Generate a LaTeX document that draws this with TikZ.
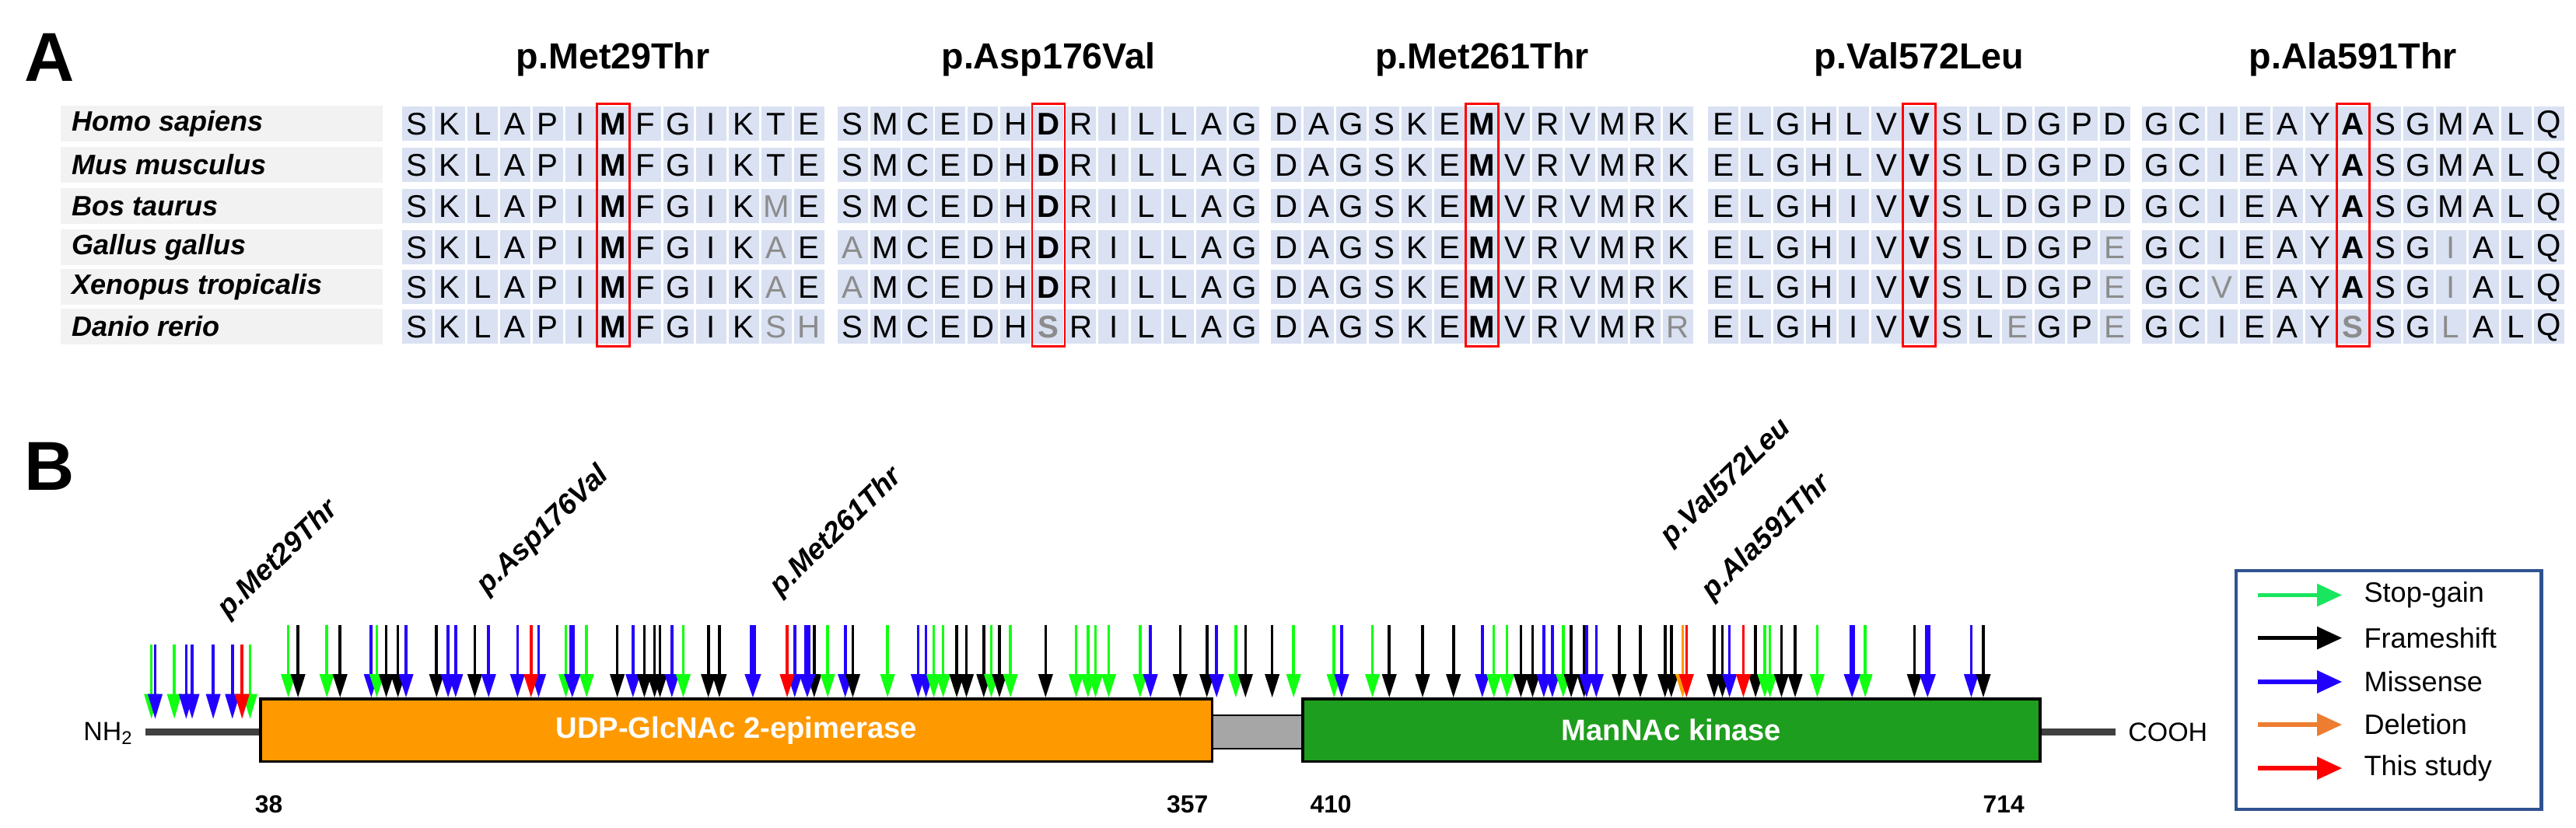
\documentclass[tikz,border=0pt]{standalone}
\usepackage{fontspec}
\setmainfont{Liberation Sans}
\definecolor{cellbg}{HTML}{D9E1F2}
\definecolor{spbg}{HTML}{F2F2F2}
\definecolor{cG}{HTML}{11FF11}
\definecolor{cB}{HTML}{2200FF}
\definecolor{cK}{HTML}{000000}
\definecolor{cR}{HTML}{FF0000}
\definecolor{cO}{HTML}{FF9900}
\definecolor{lgG}{HTML}{19E65E}
\definecolor{lgO}{HTML}{ED7D31}
\definecolor{boxO}{HTML}{FF9900}
\definecolor{boxG}{HTML}{1E9E1E}
\definecolor{legb}{HTML}{2F528F}
\definecolor{grayletter}{HTML}{8C8C8C}
\newcommand{\fsz}[1]{\fontsize{#1}{#1}\selectfont}
\def\gflag{g}
% \seqblk{rowy}{blockx}{list}
\newcommand{\seqblk}[3]{%
  \foreach \c/\col [count=\i from 0] in {#3}{%
    \pgfmathsetmacro{\xx}{#2+\i*19.8}
    \fill[cellbg] (\xx+0.7,#1-10.5) rectangle (\xx+19.1,#1+10.5);
    \edef\tmp{\col}%
    \ifx\tmp\gflag\def\lc{grayletter}\else\def\lc{black}\fi
    \ifnum\i=6
      \node[font=\fsz{19}\bfseries,text=\lc,inner sep=0] at (\xx+9.9,#1+0.5) {\c};
    \else
      \node[font=\fsz{19},text=\lc,inner sep=0] at (\xx+9.9,#1+0.5) {\c};
    \fi
  }}
\newcommand{\mutT}[2]{%
  \draw[#2,line width=1.7] (#1,379) -- (#1,410);
  \fill[#2] (#1-4.5,409) -- (#1+4.5,409) -- (#1,423) -- cycle;}
\newcommand{\mutTT}[2]{%
  \draw[#2,line width=3.4] (#1,379) -- (#1,410);
  \fill[#2] (#1-5,409) -- (#1+5,409) -- (#1,423) -- cycle;}
\newcommand{\mutS}[2]{%
  \draw[#2,line width=1.7] (#1,391) -- (#1,422);
  \fill[#2] (#1-4.5,421) -- (#1+4.5,421) -- (#1,436) -- cycle;}
\begin{document}
\begin{tikzpicture}[x=1pt,y=-1pt,
  lbl/.style={font=\fsz{17.5}\bfseries\itshape,rotate=44,anchor=south west,inner sep=0},
  num/.style={font=\fsz{15}\bfseries},
  legtxt/.style={font=\fsz{17},anchor=west}]
\useasboundingbox (0,0) rectangle (1562,502);
% ---------- Part A ----------
\node[font=\fsz{42}\bfseries] (A) at (30,35) {A};
\foreach \bx/\t in {243/p.Met29Thr,507/p.Asp176Val,770/p.Met261Thr,1035/p.Val572Leu,1298/p.Ala591Thr}{
  \node[font=\fsz{22}\bfseries] at (\bx+128.7,36) {\t};}
\foreach \y/\s in {75/Homo sapiens,100/Mus musculus,125/Bos taurus,150/Gallus gallus,174/Xenopus tropicalis,198/Danio rerio}{
  \fill[spbg] (37,\y-11) rectangle (232,\y+11);
  \node[font=\fsz{17}\bfseries\itshape,anchor=west] at (40,\y) {\s};}
% row 1,2
\foreach \y in {75,100}{
\seqblk{\y}{243}{S,K,L,A,P,I,M,F,G,I,K,T,E}
\seqblk{\y}{507}{S,M,C,E,D,H,D,R,I,L,L,A,G}
\seqblk{\y}{770}{D,A,G,S,K,E,M,V,R,V,M,R,K}
\seqblk{\y}{1035}{E,L,G,H,L,V,V,S,L,D,G,P,D}
\seqblk{\y}{1298}{G,C,I,E,A,Y,A,S,G,M,A,L,Q}}
% row 3
\seqblk{125}{243}{S,K,L,A,P,I,M,F,G,I,K,M/g,E}
\seqblk{125}{507}{S,M,C,E,D,H,D,R,I,L,L,A,G}
\seqblk{125}{770}{D,A,G,S,K,E,M,V,R,V,M,R,K}
\seqblk{125}{1035}{E,L,G,H,I,V,V,S,L,D,G,P,D}
\seqblk{125}{1298}{G,C,I,E,A,Y,A,S,G,M,A,L,Q}
% row 4
\seqblk{150}{243}{S,K,L,A,P,I,M,F,G,I,K,A/g,E}
\seqblk{150}{507}{A/g,M,C,E,D,H,D,R,I,L,L,A,G}
\seqblk{150}{770}{D,A,G,S,K,E,M,V,R,V,M,R,K}
\seqblk{150}{1035}{E,L,G,H,I,V,V,S,L,D,G,P,E/g}
\seqblk{150}{1298}{G,C,I,E,A,Y,A,S,G,I/g,A,L,Q}
% row 5
\seqblk{174}{243}{S,K,L,A,P,I,M,F,G,I,K,A/g,E}
\seqblk{174}{507}{A/g,M,C,E,D,H,D,R,I,L,L,A,G}
\seqblk{174}{770}{D,A,G,S,K,E,M,V,R,V,M,R,K}
\seqblk{174}{1035}{E,L,G,H,I,V,V,S,L,D,G,P,E/g}
\seqblk{174}{1298}{G,C,V/g,E,A,Y,A,S,G,I/g,A,L,Q}
% row 6
\seqblk{198}{243}{S,K,L,A,P,I,M,F,G,I,K,S/g,H/g}
\seqblk{198}{507}{S,M,C,E,D,H,S/g,R,I,L,L,A,G}
\seqblk{198}{770}{D,A,G,S,K,E,M,V,R,V,M,R,R/g}
\seqblk{198}{1035}{E,L,G,H,I,V,V,S,L,E/g,G,P,E/g}
\seqblk{198}{1298}{G,C,I,E,A,Y,S/g,S,G,L/g,A,L,Q}
\foreach \bx in {243,507,770,1035,1298}{
  \draw[red,line width=1.3] (\bx+6*19.8,63) rectangle (\bx+7*19.8,210);}
% ---------- Part B ----------
\node[font=\fsz{42}\bfseries] (B) at (30,283) {B};
\draw[black!75,line width=4] (88,444) -- (158,444);
\draw[black!75,line width=4] (1237,444) -- (1283,444);
\node[font=\fsz{16},anchor=east] (nh) at (84,445) {NH\textsubscript{2}};
\node[font=\fsz{16},anchor=west] (cooh) at (1287,444) {COOH};
\draw[black,line width=1,fill=black!35] (735,434) rectangle (790,454);
\draw[black,line width=1.6,fill=boxO] (158,424) rectangle (735,462);
\node[font=\fsz{18}\bfseries,text=white] (epi) at (446.5,443) {UDP-GlcNAc 2-epimerase};
\draw[black,line width=1.6,fill=boxG] (790,424) rectangle (1237,462);
\node[font=\fsz{18}\bfseries,text=white] (kin) at (1013.5,443) {ManNAc kinase};
\node[num] at (163,488) {38};
\node[num] at (720,488) {357};
\node[num] at (807,488) {410};
\node[num] at (1215,488) {714};
% short arrows (N-terminal)
\foreach \x/\c in {91.8/cG,94.1/cB,105.7/cG,112.9/cB,116.5/cB,129.3/cB,140.9/cB,151.6/cG,146.8/cR}{\mutS{\x}{\c}}
% tall arrows
\foreach \x/\c in {
174.8/cG,180.7/cK,198.2/cG,206.2/cK,225.1/cB,228.5/cG,234.2/cK,241.3/cK,246.2/cB,264.7/cK,
271.7/cB,276.3/cB,287.9/cK,296.3/cB,313.8/cB,326.6/cB,343.1/cG,355.7/cG,
374.3/cK,383.8/cB,390.7/cK,396.9/cK,400.2/cK,407.4/cB,414.3/cG,429.5/cK,436.2/cK,
481.9/cB,493.7/cK,501.9/cG,512.5/cB,517.1/cK,538.2/cG,556.7/cB,561.5/cB,566.2/cG,571.9/cG,
580.1/cK,586/cK,596.5/cK,601.1/cG,606/cK,612.7/cG,634/cK,652.5/cG,659.7/cG,664.3/cG,672.3/cG,
691.3/cG,697.6/cB,715.6/cK,731.8/cK,737.7/cB,749.3/cG,755.2/cK,771.4/cK,784.4/cG,808.9/cG,
813.5/cB,832.2/cG,842.4/cK,862.6/cK,881.3/cK,898.8/cB,905.8/cG,913.8/cG,922.2/cK,929.3/cK,
936.1/cB,941.3/cB,947.9/cG,952.7/cK,960.5/cK,962/cB,967.9/cB,981.8/cK,994.6/cK,1009.6/cK,
1013.4/cK,1020.3/cO,1039.4/cK,1044.4/cK,1048.7/cB,1064.5/cK,1070.1/cG,1073.2/cG,1080.2/cK,
1088.5/cK,1101.9/cG,1131/cG,1160.8/cK,1195.3/cB,1202.6/cK}{\mutT{\x}{\c}}
\foreach \x/\c in {347/cB,456.5/cB,489.5/cB,1123/cB,1168.8/cB}{\mutTT{\x}{\c}}
\foreach \x in {322,477.3,1022.6,1057.1}{\mutT{\x}{cR}}
% rotated labels
\node[lbl] (l1) at (141,378) {p.Met29Thr};
\node[lbl] (l2) at (298,364) {p.Asp176Val};
\node[lbl] (l3) at (476,365) {p.Met261Thr};
\node[lbl] (l4) at (1016,334) {p.Val572Leu};
\node[lbl] (l5) at (1041,367) {p.Ala591Thr};
% legend
\draw[legb,line width=2] (1356,346) rectangle (1541,491);
\foreach \y/\c/\t in {361/lgG/Stop-gain,387/cK/Frameshift,413.6/cB/Missense,439.6/lgO/Deletion,466/cR/This study}{
  \draw[\c,line width=2.5] (1369,\y) -- (1406,\y);
  \fill[\c] (1405,\y-7) -- (1420,\y) -- (1405,\y+7) -- cycle;
  \node[legtxt] at (1430,\y) {\t};}
\end{tikzpicture}
\end{document}
